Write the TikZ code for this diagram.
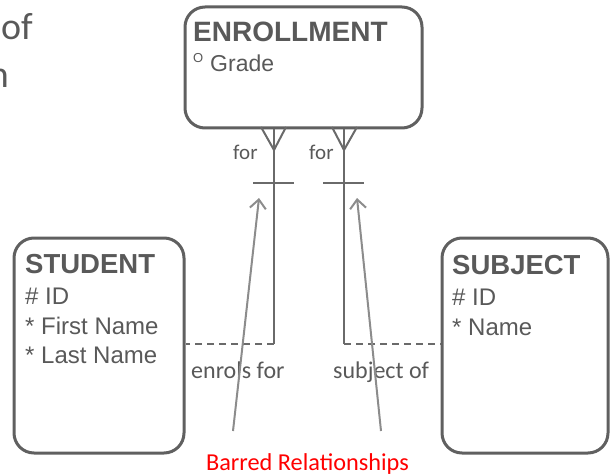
\documentclass[tikz,border=0pt]{standalone}
\usepackage{fontspec}
\setmainfont{Liberation Sans}
\newfontfamily\calfont{Carlito}
\usetikzlibrary{arrows.meta}
\definecolor{boxgray}{HTML}{606060}
\definecolor{txtgray}{HTML}{595959}
\definecolor{relgray}{HTML}{6A6A6A}
\definecolor{arrgray}{HTML}{8C8C8C}
\definecolor{barred}{HTML}{FF0000}
\tikzset{
  entity/.style={draw=boxgray, line width=3pt, rounded corners=20pt, inner sep=0pt},
  etitle/.style={inner sep=0pt, anchor=base west, text=txtgray, font=\fontsize{27.5}{30}\selectfont\bfseries},
  eattr/.style={inner sep=0pt, anchor=base west, text=txtgray, font=\fontsize{24}{28}\selectfont},
  rel/.style={draw=relgray, line width=2.5pt},
  reldash/.style={draw=relgray, line width=2.5pt, dash pattern=on 7pt off 5pt},
  rlabel/.style={inner sep=0pt, anchor=base west, text=txtgray, font=\calfont\fontsize{22}{26}\selectfont},
  pointer/.style={draw=arrgray, line width=2pt, -{Straight Barb[length=9pt,width=16pt,line width=2pt]}},
}
\begin{document}
\begin{tikzpicture}[x=1pt,y=-1pt]
\useasboundingbox (0,0) rectangle (610,476);
% partial slide title text
\node[inner sep=0pt, anchor=base east, text=txtgray, font=\calfont\fontsize{38}{44}\selectfont] (t1) at (33,40) {of};
\node[inner sep=0pt, anchor=base east, text=txtgray, font=\calfont\fontsize{38}{44}\selectfont] (t2) at (9,88) {n};
% entities
\node[entity, minimum width=237pt, minimum height=121pt] (enr) at (303.5,67.5) {};
\node[entity, minimum width=170pt, minimum height=215pt] (stu) at (99,345.5) {};
\node[entity, minimum width=166pt, minimum height=215pt] (sub) at (525,345.5) {};
% entity texts
\node[etitle, font=\fontsize{28}{30}\selectfont\bfseries] (enrT) at (193,42) {ENROLLMENT};
\node[inner sep=0pt, anchor=base west, text=txtgray, font=\fontsize{13}{14}\selectfont] (enrO) at (193,63) {O};
\node[eattr, font=\fontsize{23}{26}\selectfont] (enrA) at (210,72) {Grade};
\node[etitle] (stuT) at (25,273) {STUDENT};
\node[eattr] (stuA1) at (25,304) {\# ID};
\node[eattr] (stuA2) at (25,334) {* First Name};
\node[eattr] (stuA3) at (25,363) {* Last Name};
\node[etitle] (subT) at (452,274) {SUBJECT};
\node[eattr] (subA1) at (452,305) {\# ID};
\node[eattr] (subA2) at (452,335) {* Name};
% relationship: STUDENT - ENROLLMENT
\coordinate (lTop) at (274,127);
\coordinate (lFoot) at (274,150);
\coordinate (lCorner) at (274,344);
\draw[rel] (enr.south -| lTop) -- (lCorner);
\draw[reldash] (lCorner) -- (stu.east |- lCorner);
\draw[rel, line width=2pt] (261,127) -- (lFoot) -- (286,127);
\draw[rel] (253,183) -- (294,183);
% relationship: SUBJECT - ENROLLMENT
\coordinate (rTop) at (344,127);
\coordinate (rFoot) at (344,150);
\coordinate (rCorner) at (344,344);
\draw[rel] (enr.south -| rTop) -- (rCorner);
\draw[reldash] (rCorner) -- (sub.west |- rCorner);
\draw[rel, line width=2pt] (332,127) -- (rFoot) -- (357,127);
\draw[rel] (323,183) -- (364,183);
% relationship labels
\node[rlabel, font=\calfont\fontsize{21}{24}\selectfont] (for1) at (233,159) {for};
\node[rlabel, font=\calfont\fontsize{21}{24}\selectfont] (for2) at (309,159) {for};
\node[rlabel, font=\calfont\fontsize{24}{26}\selectfont] (enrols) at (191,378) {enrols for};
\node[rlabel, font=\calfont\fontsize{24}{26}\selectfont] (subjof) at (333,378) {subject of};
% barred relationships caption and pointers
\node[inner sep=0pt, anchor=base, text=barred, font=\calfont\fontsize{24.3}{28}\selectfont] (cap) at (307.5,470) {Barred Relationships};
\coordinate (pL) at (233,431);
\coordinate (pR) at (381,431);
\coordinate (bL) at (259,198);
\coordinate (bR) at (357,198);
\draw[pointer] (pL) -- (bL);
\draw[pointer] (pR) -- (bR);
\end{tikzpicture}
\end{document}
